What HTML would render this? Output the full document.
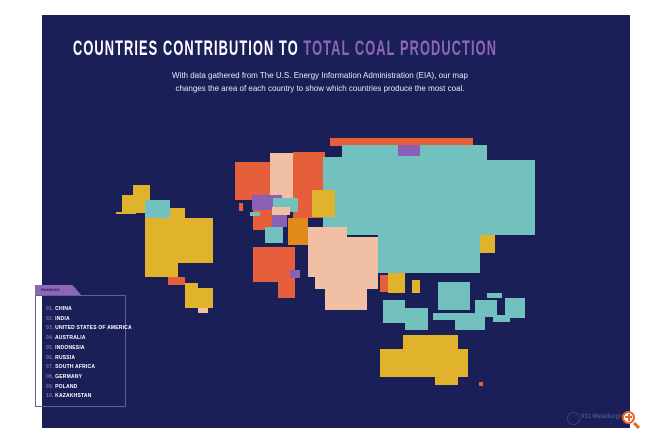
<!DOCTYPE html>
<html><head><meta charset="utf-8"><style>
body{margin:0;width:650px;height:440px;background:#fff;position:relative;overflow:hidden;font-family:"Liberation Sans",sans-serif}
#p{position:absolute;left:42px;top:15px;width:588px;height:413px;background:#1b1f58}
.r{position:absolute}
.t{background:#72c1bf}.y{background:#e1b32c}.o{background:#e5603a}.k{background:#f1bfa3}.u{background:#8b5fb5}.d{background:#e08a1c}
h1{position:absolute;left:73px;top:38px;margin:0;font-size:21px;line-height:22px;font-weight:bold;color:#fff;letter-spacing:1.8px;white-space:nowrap;transform-origin:left top;transform:scaleX(0.61)}
h1 span{color:#8c67b5}
.s{position:absolute;left:0;width:650px;text-align:center;color:#e8e8f0;font-size:8px;white-space:nowrap}
.lg{position:absolute;left:46px;font-size:5px;font-weight:bold;color:#fff;letter-spacing:0.2px}
.lg b{color:#8c67b5}
</style></head><body>
<div id="p"></div>
<h1>COUNTRIES CONTRIBUTION TO <span>TOTAL COAL PRODUCTION</span></h1>
<div class="s" style="top:71px;left:-5px">With data gathered from The U.S. Energy Information Administration (EIA), our map</div>
<div class="s" style="top:84px;left:-5px">changes the area of each country to show which countries produce the most coal.</div>

<div class="r o" style="left:330px;top:138px;width:143px;height:8px"></div>
<div class="r o" style="left:293px;top:152px;width:32px;height:66px"></div>
<div class="r t" style="left:342px;top:145px;width:145px;height:15px"></div>
<div class="r t" style="left:323px;top:157px;width:164px;height:5px"></div>
<div class="r t" style="left:323px;top:160px;width:212px;height:67px"></div>
<div class="r t" style="left:347px;top:227px;width:188px;height:8px"></div>
<div class="r t" style="left:378px;top:235px;width:102px;height:38px"></div>
<div class="r u" style="left:398px;top:145px;width:22px;height:11px"></div>
<div class="r y" style="left:312px;top:190px;width:23px;height:27px"></div>
<div class="r k" style="left:308px;top:227px;width:39px;height:12px"></div>
<div class="r k" style="left:308px;top:237px;width:70px;height:40px"></div>
<div class="r k" style="left:315px;top:277px;width:63px;height:12px"></div>
<div class="r k" style="left:325px;top:288px;width:42px;height:22px"></div>
<div class="r d" style="left:288px;top:218px;width:20px;height:27px"></div>
<div class="r o" style="left:253px;top:247px;width:42px;height:35px"></div>
<div class="r o" style="left:278px;top:280px;width:17px;height:18px"></div>
<div class="r u" style="left:290px;top:270px;width:10px;height:8px"></div>
<div class="r o" style="left:235px;top:162px;width:35px;height:38px"></div>
<div class="r k" style="left:270px;top:153px;width:23px;height:45px"></div>
<div class="r u" style="left:252px;top:195px;width:30px;height:15px"></div>
<div class="r t" style="left:273px;top:198px;width:25px;height:14px"></div>
<div class="r k" style="left:272px;top:207px;width:18px;height:8px"></div>
<div class="r o" style="left:253px;top:210px;width:19px;height:20px"></div>
<div class="r u" style="left:272px;top:215px;width:15px;height:12px"></div>
<div class="r t" style="left:265px;top:227px;width:18px;height:16px"></div>
<div class="r t" style="left:250px;top:212px;width:10px;height:4px"></div>
<div class="r o" style="left:239px;top:203px;width:4px;height:8px"></div>
<div class="r y" style="left:133px;top:185px;width:17px;height:12px"></div>
<div class="r y" style="left:122px;top:195px;width:28px;height:18px"></div>
<div class="r y" style="left:116px;top:212px;width:20px;height:2px"></div>
<div class="r y" style="left:145px;top:208px;width:40px;height:12px"></div>
<div class="r y" style="left:145px;top:218px;width:68px;height:45px"></div>
<div class="r y" style="left:145px;top:262px;width:33px;height:15px"></div>
<div class="r t" style="left:145px;top:200px;width:25px;height:18px"></div>
<div class="r o" style="left:168px;top:277px;width:17px;height:8px"></div>
<div class="r y" style="left:185px;top:283px;width:13px;height:6px"></div>
<div class="r y" style="left:185px;top:288px;width:28px;height:20px"></div>
<div class="r k" style="left:198px;top:308px;width:10px;height:5px"></div>
<div class="r y" style="left:388px;top:273px;width:17px;height:20px"></div>
<div class="r o" style="left:380px;top:275px;width:8px;height:17px"></div>
<div class="r y" style="left:412px;top:280px;width:8px;height:13px"></div>
<div class="r y" style="left:480px;top:235px;width:15px;height:18px"></div>
<div class="r t" style="left:383px;top:300px;width:22px;height:23px"></div>
<div class="r t" style="left:405px;top:308px;width:23px;height:22px"></div>
<div class="r t" style="left:438px;top:282px;width:32px;height:28px"></div>
<div class="r t" style="left:433px;top:313px;width:52px;height:7px"></div>
<div class="r t" style="left:455px;top:318px;width:30px;height:12px"></div>
<div class="r t" style="left:475px;top:300px;width:22px;height:17px"></div>
<div class="r t" style="left:505px;top:298px;width:20px;height:20px"></div>
<div class="r t" style="left:487px;top:293px;width:15px;height:5px"></div>
<div class="r t" style="left:493px;top:315px;width:17px;height:7px"></div>
<div class="r y" style="left:403px;top:335px;width:55px;height:14px"></div>
<div class="r y" style="left:380px;top:349px;width:88px;height:28px"></div>
<div class="r y" style="left:435px;top:376px;width:23px;height:9px"></div>
<div class="r o" style="left:479px;top:382px;width:4px;height:4px"></div>

<div class="r" style="left:35px;top:285px;width:47px;height:11px;background:#8c67b5;clip-path:polygon(0 0,80% 0,100% 100%,0 100%)"></div>
<div class="r" style="left:41px;top:287px;font-size:4px;font-weight:bold;color:#2a2060">RANKING</div>
<div class="r" style="left:35px;top:295px;width:91px;height:112px;border:1px solid #6a5a9a;box-sizing:border-box"></div>
<div class="lg" style="top:306px"><b>01.</b> CHINA</div>
<div class="lg" style="top:315.7px"><b>02.</b> INDIA</div>
<div class="lg" style="top:325.4px"><b>03.</b> UNITED STATES OF AMERICA</div>
<div class="lg" style="top:335.1px"><b>04.</b> AUSTRALIA</div>
<div class="lg" style="top:344.8px"><b>05.</b> INDONESIA</div>
<div class="lg" style="top:354.5px"><b>06.</b> RUSSIA</div>
<div class="lg" style="top:364.2px"><b>07.</b> SOUTH AFRICA</div>
<div class="lg" style="top:373.9px"><b>08.</b> GERMANY</div>
<div class="lg" style="top:383.6px"><b>09.</b> POLAND</div>
<div class="lg" style="top:393.3px"><b>10.</b> KAZAKHSTAN</div>

<div class="r" style="left:567px;top:412px;width:11px;height:11px;border-radius:50%;border:1px solid #3a3f78"></div>
<div class="r" style="left:581px;top:414px;font-size:6px;font-weight:bold;color:#4a5088">911 Metallurgist</div>
<div class="r" style="left:622px;top:411px;width:13px;height:13px;border-radius:50%;border:2px solid #e8672a;box-sizing:border-box;background:#fff"></div>
<div class="r" style="left:625px;top:416px;width:7px;height:2px;background:#e8672a"></div>
<div class="r" style="left:627.5px;top:413.5px;width:2px;height:7px;background:#e8672a"></div>
<div class="r" style="left:633px;top:424px;width:7px;height:3px;background:#e8672a;transform:rotate(45deg)"></div>
</body></html>
